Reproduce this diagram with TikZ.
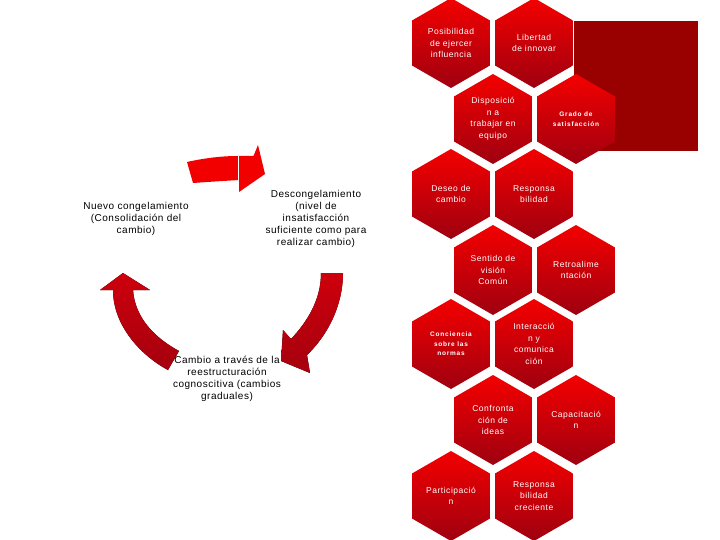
\documentclass[tikz,border=0pt]{standalone}
\usepackage{fontspec}
\setmainfont{Liberation Sans}
\newfontfamily\hexfont[LetterSpace=6]{Liberation Sans}
\newfontfamily\hexsmall[LetterSpace=12]{Liberation Sans}
\newfontfamily\lblfont[LetterSpace=5]{Liberation Sans}
\usetikzlibrary{shapes.geometric}
\definecolor{hexTop}{RGB}{244,0,0}
\definecolor{hexMid}{RGB}{222,0,6}
\definecolor{hexBot}{RGB}{158,0,16}
\definecolor{boxRed}{RGB}{153,0,0}
\definecolor{arrowBright}{RGB}{242,0,0}
\definecolor{arrowDarkA}{RGB}{205,0,12}
\definecolor{arrowDarkB}{RGB}{165,0,14}
\tikzset{
  hexa/.style={regular polygon, regular polygon sides=6, shape border rotate=30,
    minimum size=90pt, inner sep=0pt, draw=none,
    top color=hexTop, middle color=hexMid, bottom color=hexBot,
    text=white, align=center, font=\hexfont\fontsize{8.5}{11.5}\selectfont},
  hexsm/.style={hexa, font=\hexsmall\bfseries\fontsize{6.5}{9.5}\selectfont},
  lbl/.style={align=center, text=black, inner sep=0pt, font=\lblfont\fontsize{10}{12}\selectfont},
  darkarrow/.style={top color=arrowDarkA, bottom color=arrowDarkB, draw=none}
}
\begin{document}
\begin{tikzpicture}[x=1pt,y=-1pt]
\useasboundingbox (0,0) rectangle (720,540);
% dark background box
\fill[boxRed] (574,21) rectangle (698,151);
% hexagons
\node[hexa]  (h1)  at (451,43)  {Posibilidad\\de ejercer\\influencia};
\node[hexa]  (h2)  at (534,43)  {Libertad\\de innovar};
\node[hexa]  (h3)  at (493,119) {Disposició\\n a\\trabajar en\\equipo};
\node[hexsm] (h4)  at (576,119) {Grado de\\satisfacción};
\node[hexa]  (h5)  at (451,194) {Deseo de\\cambio};
\node[hexa]  (h6)  at (534,194) {Responsa\\bilidad};
\node[hexa]  (h7)  at (493,270) {Sentido de\\visión\\Común};
\node[hexa]  (h8)  at (576,270) {Retroalime\\ntación};
\node[hexsm] (h9)  at (451,344) {Conciencia\\sobre las\\normas};
\node[hexa]  (h10) at (534,344) {Interacció\\n y\\comunica\\ción};
\node[hexa]  (h11) at (493,420) {Confronta\\ción de\\ideas};
\node[hexa]  (h12) at (576,420) {Capacitació\\n};
\node[hexa]  (h13) at (451,496) {Participació\\n};
\node[hexa]  (h14) at (534,496) {Responsa\\bilidad\\creciente};
% cycle arrows
\fill[arrowBright] (187,162) .. controls (205,158) and (222,156) .. (238,156)
  -- (253.5,156) -- (258,145) -- (265,174) -- (239,192) -- (239,180)
  .. controls (222,181) and (207,182) .. (193,183) -- cycle;
\draw[white, line width=0.9pt] (238.3,156.5) -- (238.3,180);
\fill[darkarrow] (321,273) -- (343,273) .. controls (343,305) and (328,335) .. (307,355)
  -- (310,373) -- (281,361) -- (283,330) -- (291,339)
  .. controls (307,322) and (321,300) .. (321,273) -- cycle;
\fill[darkarrow] (123,273) -- (150,290) -- (133,290)
  .. controls (135,318) and (155,338) .. (179,351) -- (168,370)
  .. controls (140,355) and (113,325) .. (113,290) -- (100,290) -- cycle;
% labels
\node[lbl] (t1) at (136,219) {Nuevo congelamiento\\(Consolidación del\\cambio)};
\node[lbl] (t2) at (316,219) {Descongelamiento\\(nivel de\\insatisfacción\\suficiente como para\\realizar cambio)};
\node[lbl] (t3) at (227,379) {Cambio a través de la\\reestructuración\\cognoscitiva (cambios\\graduales)};
\end{tikzpicture}
\end{document}
